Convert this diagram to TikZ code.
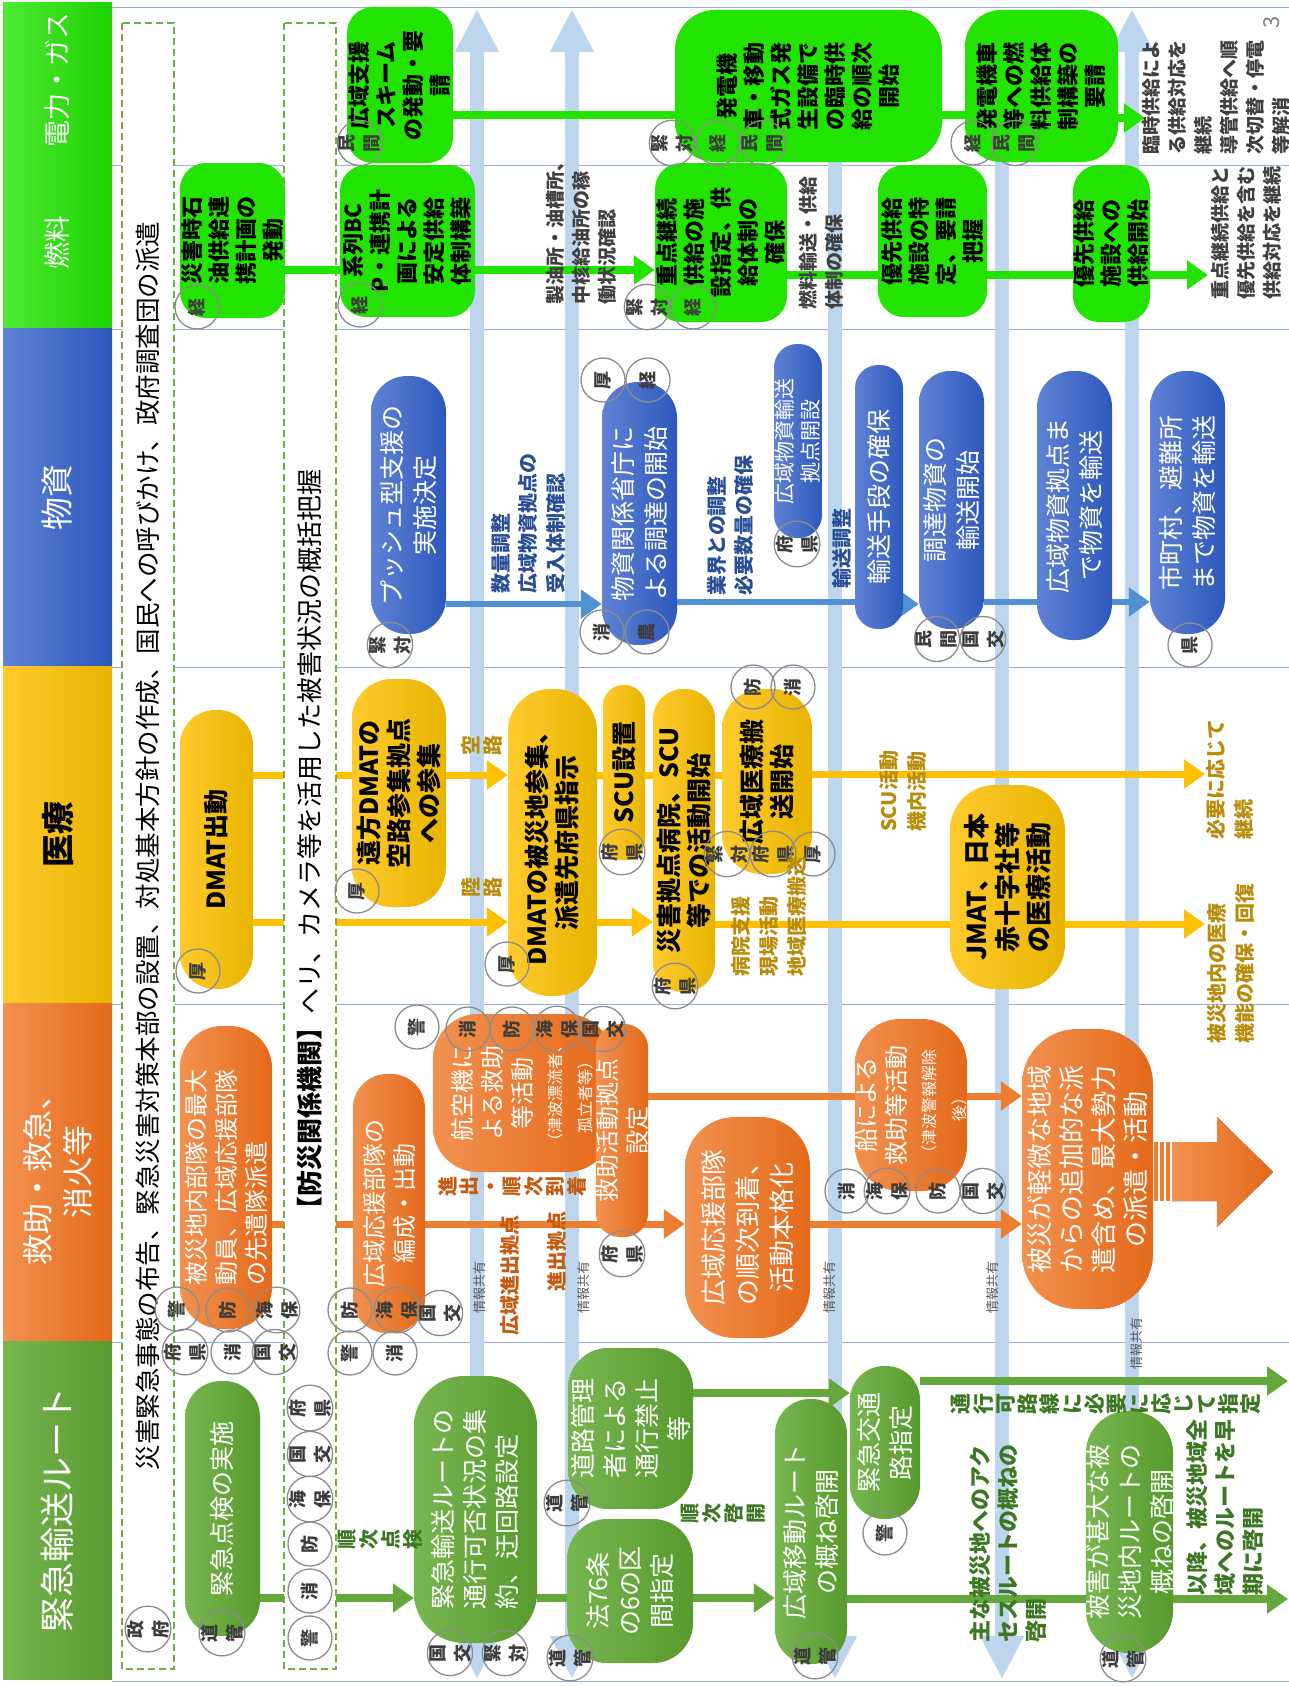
\documentclass[tikz,border=0pt]{standalone}
\usepackage{fontspec}
\setmainfont{Noto Sans CJK JP}
\usetikzlibrary{arrows.meta}
\pgfdeclarelayer{bg}
\pgfdeclarelayer{mid}
\pgfsetlayers{bg,mid,main}
\definecolor{gBright}{RGB}{34,228,0}
\definecolor{gBrightD}{RGB}{28,210,0}
\definecolor{bLight}{RGB}{95,130,212}
\definecolor{bDark}{RGB}{45,88,188}
\definecolor{yLight}{RGB}{255,202,45}
\definecolor{yDark}{RGB}{232,180,0}
\definecolor{oLight}{RGB}{242,145,80}
\definecolor{oDark}{RGB}{228,105,25}
\definecolor{eLight}{RGB}{120,182,80}
\definecolor{eDark}{RGB}{88,154,46}
\definecolor{barBlue}{RGB}{189,214,238}
\definecolor{sepBlue}{RGB}{150,175,225}
\definecolor{dashGreen}{RGB}{112,173,71}
\definecolor{goldTxt}{RGB}{184,140,10}
\definecolor{blueTxt}{RGB}{40,78,150}
\definecolor{orangeTxt}{RGB}{197,90,17}
\definecolor{greenTxt}{RGB}{60,120,35}
\definecolor{circGray}{RGB}{140,140,140}
\definecolor{circTxt}{RGB}{60,60,60}
\definecolor{lineBlue}{RGB}{80,145,210}
\definecolor{lineYel}{RGB}{255,192,0}
\definecolor{lineOra}{RGB}{237,125,49}
\definecolor{lineGrn}{RGB}{100,168,60}
\newcommand\bx[7]{%
 \pgfmathsetmacro\bxcx{(#3+#5)/2}%
 \pgfmathsetmacro\bxcy{(#4+#6)/2}%
 \pgfmathsetmacro\bxw{#6-#4}%
 \pgfmathsetmacro\bxh{#5-#3}%
 \node[#2, minimum width=\bxw pt, minimum height=\bxh pt] (#1) at (\bxcx,\bxcy) {#7};}
\newcommand\ci[4]{\node[circ] (#1) at (#2,#3) {#4};}
\newcommand\lb[5]{\node[rotate=90, anchor=north west, align=left, inner sep=0pt, #4] (#1) at (#2,#3) {#5};}
\newcommand\smallfs{\fontsize{16}{20}\selectfont}
\tikzset{
 boxbase/.style={rotate=90, align=center, inner sep=0pt, shape=rectangle},
 hdr/.style={boxbase, text=white},
 gbox/.style={boxbase, fill=gBright, text=black, font=\fontsize{22}{27}\selectfont\bfseries, rounded corners=26pt},
 bbox/.style={boxbase, left color=bLight, right color=bDark, text=white, font=\fontsize{25}{33}\selectfont},
 ybox/.style={boxbase, left color=yLight, right color=yDark, text=black, font=\fontsize{25}{30}\selectfont\bfseries},
 obox/.style={boxbase, left color=oLight, right color=oDark, text=white, font=\fontsize{25}{32}\selectfont},
 ebox/.style={boxbase, left color=eLight, right color=eDark, text=white, font=\fontsize{25}{32}\selectfont},
 circ/.style={circle, draw=circGray, line width=1.3pt, minimum size=44pt, inner sep=0pt, rotate=90, align=center, text=circTxt, font=\fontsize{18}{25}\selectfont\bfseries},
 lblg/.style={font=\fontsize{19}{26}\selectfont\bfseries, text=black!75},
 lblb/.style={font=\fontsize{20}{27.5}\selectfont\bfseries, text=blueTxt},
 lbly/.style={font=\fontsize{20}{28}\selectfont\bfseries, text=goldTxt},
 lble/.style={font=\fontsize{22}{28}\selectfont\bfseries, text=greenTxt},
 lblo/.style={font=\fontsize{20}{24}\selectfont\bfseries, text=orangeTxt},
 vlbl/.style={rotate=90, align=center, inner sep=0pt, font=\fontsize{20}{22}\selectfont\bfseries},
 info/.style={rotate=90, anchor=west, inner sep=0pt, font=\fontsize{13}{13}\selectfont, text=black!65},
 dbox/.style={rotate=90, draw=dashGreen, dash pattern=on 7pt off 4pt, line width=1.6pt, fill=white, minimum width=1646pt, minimum height=52pt, inner sep=0pt},
 gcon/.style={draw=gBright, line width=8pt},
 bcon/.style={draw=lineBlue, line width=6pt},
 ycon/.style={draw=lineYel, line width=7pt},
 ocon/.style={draw=lineOra, line width=7pt},
 econ/.style={draw=lineGrn, line width=8pt},
 arr/.style={-{Triangle[length=21pt,width=28pt]}},
 bararr/.style={draw=barBlue, line width=14pt, {Triangle[length=43pt,width=41pt]}-{Triangle[length=43pt,width=41pt]}},
}
\begin{document}
\begin{tikzpicture}[x=1pt,y=-1pt]
\useasboundingbox (0,0) rectangle (1289,1686);
\begin{pgfonlayer}{bg}
\fill[white] (0,0) rectangle (1289,1686);
\foreach \yy in {8,165,329,667,1004,1342,1681}{\draw[sepBlue, line width=1pt] (112,\yy) -- (1289,\yy);}
\foreach \xx/\nm in {477/A,572/B,835/C,1002/D,1132/E}{
 \coordinate (bar\nm top) at (\xx,9);
 \coordinate (bar\nm bot) at (\xx,1679);
 \draw[bararr] (bar\nm top) -- (bar\nm bot);}
\end{pgfonlayer}
% headers
\bx{h1}{hdr, left color=gBright!80!white, right color=gBrightD, font=\fontsize{27}{32}\selectfont}{3}{3}{112}{157}{電力・ガス}
\bx{h2}{hdr, left color=gBright!80!white, right color=gBrightD, font=\fontsize{27}{32}\selectfont}{3}{157}{112}{327}{燃料}
\bx{h3}{hdr, left color=bLight, right color=bDark, font=\fontsize{33}{38}\selectfont}{3}{328}{112}{666}{物資}
\bx{h4}{hdr, left color=yLight, right color=yDark, text=black, font=\fontsize{33}{38}\selectfont\bfseries}{3}{666}{112}{1003}{医療}
\bx{h5}{hdr, left color=oLight, right color=oDark, font=\fontsize{31}{40}\selectfont}{3}{1003}{112}{1341}{救助・救急、\\消火等}
\bx{h6}{hdr, left color=eLight, right color=eDark, font=\fontsize{35}{38}\selectfont}{3}{1341}{112}{1679}{緊急輸送ルート}
% power
\bx{pw1}{gbox}{347}{7}{453}{163}{広域支援\\スキーム\\の発動・要\\請}
\bx{pw2}{gbox, rounded corners=40pt}{675}{10}{942}{162}{発電機\\車・移動\\式ガス発\\生設備で\\の臨時供\\給の順次\\開始}
\bx{pw3}{gbox, rounded corners=36pt}{965}{10}{1118}{162}{発電機車\\等への燃\\料供給体\\制構築の\\要請}
% fuel
\bx{f1}{gbox}{180}{163}{285}{318}{災害時石\\油供給連\\携計画の\\発動}
\bx{f2}{gbox}{340}{165}{475}{317}{系列BC\\P・連携計\\画による\\安定供給\\体制構築}
\bx{f3}{gbox}{655}{163}{787}{322}{重点継続\\供給の施\\設指定、供\\給体制の\\確保}
\bx{f4}{gbox}{878}{165}{987}{317}{優先供給\\施設の特\\定、要請\\把握}
\bx{f5}{gbox}{1073}{165}{1150}{322}{優先供給\\施設への\\供給開始}
% materials
\bx{m1}{bbox, rounded corners=36pt}{371}{376}{446}{634}{プッシュ型支援の\\実施決定}
\bx{m2}{bbox, rounded corners=36pt}{602}{382}{677}{645}{物資関係省庁に\\よる調達の開始}
\bx{m3}{bbox, rounded corners=23pt, font=\fontsize{21}{26}\selectfont}{774}{344}{822}{538}{広域物資輸送\\拠点開設}
\bx{m4}{bbox, rounded corners=23pt}{855}{365}{903}{629}{輸送手段の確保}
\bx{m5}{bbox, rounded corners=31pt}{919}{371}{984}{629}{調達物資の\\輸送開始}
\bx{m6}{bbox, rounded corners=36pt}{1037}{371}{1112}{640}{広域物資拠点ま\\で物資を輸送}
\bx{m7}{bbox, rounded corners=36pt}{1150}{371}{1225}{634}{市町村、避難所\\まで物資を輸送}
% medical
\bx{d1}{ybox, rounded corners=35pt}{180}{710}{253}{989}{DMAT出動}
\bx{d2}{ybox, rounded corners=40pt}{352}{679}{446}{907}{遠方DMATの\\空路参集拠点\\への参集}
\bx{d3}{ybox, rounded corners=42pt}{508}{689}{597}{996}{DMATの被災地参集、\\派遣先府県指示}
\bx{d4}{ybox, rounded corners=20pt}{603}{685}{645}{860}{SCU設置}
\bx{d5}{ybox, rounded corners=30pt}{653}{689}{715}{992}{災害拠点病院、SCU\\等での活動開始}
\bx{d6}{ybox, rounded corners=40pt}{722}{689}{812}{874}{広域医療搬\\送開始}
\bx{d7}{ybox, rounded corners=45pt, font=\fontsize{26}{31}\selectfont\bfseries}{950}{785}{1065}{989}{JMAT、日本\\赤十字社等\\の医療活動}
% rescue
\bx{r1}{obox, rounded corners=42pt, align=left, font=\fontsize{24}{30}\selectfont}{180}{1026}{272}{1329}{被災地内部隊の最大\\動員、広域応援部隊\\の先遣隊派遣}
\bx{r2}{obox, rounded corners=34pt, font=\fontsize{24}{30}\selectfont}{353}{1074}{425}{1333}{広域応援部隊の\\編成・出動}
\bx{r3}{obox, rounded corners=45pt, font=\fontsize{24}{30}\selectfont}{433}{1014}{612}{1172}{航空機に\\よる救助\\等活動\\\smallfs （津波漂流者、\\\smallfs 孤立者等）}
\bx{r4}{obox, rounded corners=24pt, font=\fontsize{24}{30}\selectfont}{596}{1024}{648}{1237}{救助活動拠点\\設定}
\bx{r5}{obox, rounded corners=50pt, font=\fontsize{26}{34}\selectfont}{685}{1117}{810}{1338}{広域応援部隊\\の順次到着、\\活動本格化}
\bx{r6}{obox, rounded corners=45pt, font=\fontsize{24}{30}\selectfont}{855}{1019}{967}{1191}{船による\\救助等活動\\\smallfs （津波警報解除\\\smallfs 後）}
\bx{r7}{obox, rounded corners=55pt, font=\fontsize{26}{32}\selectfont}{1022}{1029}{1153}{1309}{被災が軽微な地域\\からの追加的な派\\遣含め、最大勢力\\の派遣・活動}
% route
\bx{e1}{ebox, rounded corners=36pt}{185}{1381}{260}{1636}{緊急点検の実施}
\bx{e2}{ebox, rounded corners=50pt, align=left}{414}{1376}{537}{1643}{緊急輸送ルートの\\通行可否状況の集\\約、迂回路設定}
\bx{e3}{ebox, rounded corners=40pt}{567}{1519}{693}{1663}{法76条\\の6の区\\間指定}
\bx{e4}{ebox, rounded corners=40pt}{568}{1348}{693}{1509}{道路管理\\者による\\通行禁止\\等}
\bx{e5}{ebox, rounded corners=35pt}{775}{1399}{847}{1664}{広域移動ルート\\の概ね啓開}
\bx{e6}{ebox, rounded corners=34pt}{850}{1366}{920}{1519}{緊急交通\\路指定}
\bx{e7}{ebox, rounded corners=42pt}{1087}{1411}{1172}{1653}{被害が甚大な被\\災地内ルートの\\概ねの啓開}
% end coordinates
\coordinate (pwend) at (1145,118);
\coordinate (fend) at (1208,275);
\coordinate (dend1) at (1205,774);
\coordinate (dend2) at (1205,924);
\coordinate (eend1) at (1288,1381);
\coordinate (eend2) at (1288,1599);
\begin{pgfonlayer}{mid}
\draw[gcon] (pw1.south |- 0,115) -- (pw2.north |- 0,115);
\draw[gcon] (pw2.south |- 0,115) -- (pw3.north |- 0,115);
\draw[gcon,arr] (pw3.south |- 0,118) -- (pwend);
\draw[gcon,arr] (f2.south |- 0,270) -- (f3.north |- 0,270);
\draw[gcon] (f3.south |- 0,275) -- (f4.north |- 0,275);
\draw[gcon] (f4.south |- 0,275) -- (f5.north |- 0,275);
\draw[gcon,arr] (f5.south |- 0,275) -- (fend);
\draw[bcon,arr] (m1.south |- 0,604) -- (m2.north |- 0,604);
\draw[bcon] (m2.south |- 0,602) -- (m4.north |- 0,602);
\draw[bcon,arr] (m4.south |- 0,604) -- (m5.north |- 0,604);
\draw[bcon] (m5.south |- 0,602) -- (m6.north |- 0,602);
\draw[bcon,arr] (m6.south |- 0,602) -- (m7.north |- 0,602);
\draw[ycon] (d1.south |- 0,775) -- (d2.north |- 0,775);
\draw[ycon,arr] (d2.south |- 0,775) -- (d3.north |- 0,775);
\draw[ycon,arr] (d1.south |- 0,922) -- (d3.north |- 0,922);
\draw[ycon] (d3.south |- 0,775) -- (d4.north |- 0,775);
\draw[ycon] (d4.south |- 0,775) -- (d5.north |- 0,775);
\draw[ycon] (d5.south |- 0,775) -- (d6.north |- 0,775);
\draw[ycon,arr] (d6.south |- 0,774) -- (dend1);
\draw[ycon,arr] (d3.south |- 0,922) -- (d5.north |- 0,922);
\draw[ycon] (d5.south |- 0,924) -- (d7.north |- 0,924);
\draw[ycon,arr] (d7.south |- 0,924) -- (dend2);
\draw[ocon] (r1.south |- 0,1224) -- (r2.north |- 0,1224);
\draw[ocon,arr] (r2.south |- 0,1224) -- (r5.north |- 0,1224);
\draw[ocon,arr] (r5.south |- 0,1224) -- (r7.north |- 0,1224);
\draw[ocon] (r4.south |- 0,1096) -- (r6.north |- 0,1096);
\draw[ocon,arr] (r6.south |- 0,1096) -- (r7.north |- 0,1096);
\draw[econ,arr] (e1.south |- 0,1598) -- (e2.north |- 0,1598);
\draw[econ] (e2.south |- 0,1598) -- (e3.north |- 0,1598);
\draw[econ,arr] (e3.south |- 0,1598) -- (e5.north |- 0,1598);
\draw[econ,arr] (e4.south |- 0,1393) -- (e6.north |- 0,1393);
\draw[econ,arr] (e6.south |- 0,1381) -- (eend1);
\draw[econ,arr] (e5.south |- 0,1599) -- (eend2);
% dashed boxes
\node[dbox, font=\fontsize{25.5}{28}\selectfont] (dash1) at (148,846) {災害緊急事態の布告、緊急災害対策本部の設置、対処基本方針の作成、国民への呼びかけ、政府調査団の派遣};
\node[dbox, font=\fontsize{26}{28}\selectfont] (dash2) at (310,846) {\textbf{【防災関係機関】}ヘリ、カメラ等を活用した被害状況の概括把握};
\end{pgfonlayer}
\draw[gcon] (f1.south |- 0,270) -- (f2.north |- 0,270);
% big striped arrow
\fill[lineOra] (1154,1142) rectangle (1158,1201);
\fill[lineOra] (1160,1142) rectangle (1164,1201);
\fill[lineOra] (1166,1142) rectangle (1170,1201);
\fill[left color=oLight, right color=oDark] (1172,1142) -- (1217,1142) -- (1217,1117) -- (1273,1172) -- (1217,1227) -- (1217,1201) -- (1172,1201) -- cycle;
% circles
\ci{c1}{360}{143}{民\\間}
\ci{c2}{672}{143}{緊\\対}
\ci{c3}{718}{143}{経}
\ci{c4}{763}{143}{民\\間}
\ci{c5}{973}{143}{経}
\ci{c6}{1015}{143}{民\\間}
\ci{c7}{197}{307}{経}
\ci{c8}{360}{305}{経}
\ci{c9}{647}{307}{緊\\対}
\ci{c10}{693}{307}{経}
\ci{c11}{390}{645}{緊\\対}
\ci{c12}{603}{380}{厚}
\ci{c13}{648}{380}{経}
\ci{c14}{602}{632}{消}
\ci{c15}{647}{632}{農}
\ci{c16}{797}{544}{府\\県}
\ci{c17}{937}{639}{民\\間}
\ci{c18}{983}{639}{国\\交}
\ci{c19}{1190}{645}{県}
\ci{c20}{198}{971}{厚}
\ci{c21}{357}{891}{厚}
\ci{c22}{507}{964}{厚}
\ci{c23}{622}{852}{府\\県}
\ci{c24}{675}{986}{府\\県}
\ci{c25}{753}{687}{防}
\ci{c26}{793}{687}{消}
\ci{c27}{727}{854}{緊\\対}
\ci{c28}{773}{854}{府\\県}
\ci{c29}{813}{854}{厚}
\ci{c30}{177}{1309}{警}
\ci{c31}{228}{1310}{防}
\ci{c32}{277}{1310}{海\\保}
\ci{c33}{185}{1352}{府\\県}
\ci{c34}{233}{1352}{消}
\ci{c35}{275}{1352}{国\\交}
\ci{c36}{350}{1310}{防}
\ci{c37}{397}{1310}{海\\保}
\ci{c38}{440}{1313}{国\\交}
\ci{c39}{350}{1353}{警}
\ci{c40}{395}{1353}{消}
\ci{c41}{417}{1027}{警}
\ci{c42}{468}{1029}{消}
\ci{c43}{512}{1029}{防}
\ci{c44}{557}{1029}{海\\保}
\ci{c45}{603}{1029}{国\\交}
\ci{c46}{622}{1254}{府\\県}
\ci{c47}{847}{1191}{消}
\ci{c48}{887}{1191}{海\\保}
\ci{c49}{938}{1191}{防}
\ci{c50}{983}{1191}{国\\交}
\ci{c51}{148}{1629}{政\\府}
\ci{c52}{222}{1633}{道\\管}
\ci{c53}{310}{1408}{府\\県}
\ci{c54}{310}{1454}{国\\交}
\ci{c55}{310}{1499}{海\\保}
\ci{c56}{310}{1544}{防}
\ci{c57}{310}{1591}{消}
\ci{c58}{310}{1638}{警}
\ci{c59}{450}{1653}{国\\交}
\ci{c60}{505}{1653}{緊\\対}
\ci{c61}{567}{1503}{道\\管}
\ci{c62}{570}{1658}{道\\管}
\ci{c63}{815}{1656}{道\\管}
\ci{c64}{885}{1533}{警}
\ci{c65}{1123}{1659}{道\\管}
% labels
\lb{t1}{546}{305}{lblg}{製油所・油槽所、\\中核給油所の稼\\働状況確認}
\lb{t2}{799}{310}{lblg}{燃料輸送・供給\\体制の確保}
\lb{t3}{1142}{155}{lblg}{臨時供給によ\\る供給対応を\\継続\\導管供給へ順\\次切替・停電\\等解消}
\lb{t4}{1211}{300}{lblg}{重点継続供給と\\優先供給を含む\\供給対応を継続}
\lb{t5}{491}{594}{lblb}{数量調整\\広域物資拠点の\\受入体制確認}
\lb{t6}{707}{596}{lblb}{業界との調整\\必要数量の確保}
\lb{t7}{832}{589}{lblb}{輸送調整}
\lb{t8}{879}{832}{lbly}{SCU活動\\機内活動}
\lb{t9}{731}{977}{lbly}{病院支援\\現場活動\\地域医療搬送}
\lb{t10}{1206}{840}{lbly}{必要に応じて\\継続}
\lb{t11}{1207}{1044}{lbly}{被災地内の医療\\機能の確保・回復}
\lb{t12}{969}{1643}{lble}{主な被災地へのアク\\セスルートの概ねの\\啓開}
\lb{t13}{1186}{1596}{lble}{以降、被災地域全\\域へのルートを早\\期に啓開}
\lb{t14}{500}{1336}{lblo}{広域進出拠点}
\lb{t15}{547}{1292}{lblo}{進出拠点}
\node[vlbl, text=greenTxt] (v1) at (380,1539) {順\\次\\点\\検};
\node[vlbl, text=greenTxt] (v2) at (723,1513) {順\\次\\啓\\開};
\node[vlbl, text=greenTxt, font=\fontsize{21}{22.3}\selectfont\bfseries] (v3) at (1106,1404) {通\\行\\可\\路\\線\\に\\必\\要\\に\\応\\じ\\て\\指\\定};
\node[vlbl, text=orangeTxt, font=\fontsize{20}{21.5}\selectfont\bfseries] (v4) at (512,1186) {進\\出\\・\\順\\次\\到\\着};
\node[vlbl, text=goldTxt] (v5) at (482,745) {空\\路};
\node[vlbl, text=goldTxt] (v6) at (482,887) {陸\\路};
\node[info] (i1) at (480,1314) {情報共有};
\node[info] (i2) at (584,1314) {情報共有};
\node[info] (i3) at (830,1314) {情報共有};
\node[info] (i4) at (993,1314) {情報共有};
\node[info] (i5) at (1137,1370) {情報共有};
\node[rotate=90, text=gray, font=\fontsize{22}{22}\selectfont] (pg) at (1272,22) {3};
\end{tikzpicture}
\end{document}
